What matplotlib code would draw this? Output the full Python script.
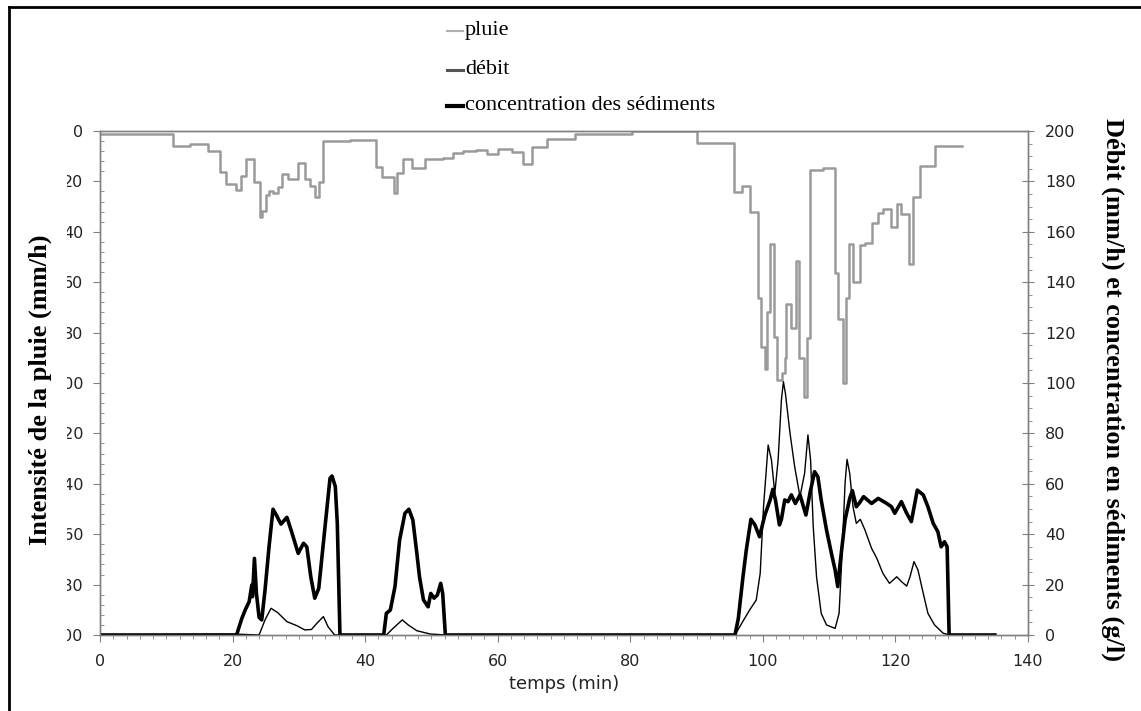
import matplotlib.pyplot as plt
from matplotlib.lines import Line2D
from matplotlib.patches import Rectangle
from matplotlib.ticker import MultipleLocator

# rain intensity (mm/h), step starts in minutes
rain_t = [0, 11.0, 13.6, 16.3, 18.1, 19.0, 20.5, 21.2, 22.0, 23.2,
          24.1, 24.5, 25.0, 25.5, 26.1, 26.8, 27.5, 28.4, 29.9, 30.9,
          31.7, 32.4, 33.1, 33.7, 37.7, 41.6, 42.6, 44.3, 44.8, 45.7,
          47.0, 49.0, 51.8, 53.2, 54.7, 56.7, 58.4, 60.1, 62.1, 63.8,
          65.1, 67.4, 71.6, 80.2, 90.0, 95.7, 96.8, 98.1, 99.3, 99.7,
          100.3, 100.7, 101.1, 101.7, 102.2, 102.9, 103.3, 103.5, 104.3, 105.0,
          105.5, 106.2, 106.6, 107.1, 109.0, 110.9, 111.4, 112.1, 112.5, 113.0,
          113.6, 114.6, 115.4, 116.5, 117.4, 118.1, 119.3, 120.2, 120.9, 122.0,
          122.6, 123.7, 125.9, 130.1]
rain_r = [1, 6.0, 5.2, 7.8, 16.4, 21.2, 23.4, 17.9, 11.2, 20.1,
          34.3, 31.6, 25.4, 23.7, 24.8, 22.1, 17.1, 19.2, 12.6, 19.2,
          21.8, 26.3, 20.1, 3.8, 3.5, 14.2, 18.4, 24.7, 16.5, 11.2,
          14.8, 11.2, 10.8, 8.9, 7.9, 7.5, 9.3, 7.1, 8.5, 13.1,
          6.2, 3.3, 1.2, 0, 4.9, 24.1, 21.8, 32.0, 66.4, 85.8,
          94.6, 71.7, 45.0, 81.6, 99.0, 96.0, 90.0, 68.8, 78.3, 51.5,
          90.2, 105.7, 82.3, 15.5, 14.8, 56.2, 74.7, 100.1, 66.4, 45.0,
          59.8, 45.2, 44.3, 36.6, 32.7, 31.0, 38.2, 29.0, 33.1, 52.8,
          26.1, 13.9, 5.8, 5.8]

# discharge (mm/h)
q_t = [0, 21.0, 24.0, 24.9, 25.8, 26.8, 28.2, 29.7, 30.9, 31.9,
       32.7, 33.7, 34.4, 35.4, 43.2, 44.2, 45.6, 46.5, 47.8, 49.8,
       52.3, 95.8, 96.8, 98.0, 99.0, 99.6, 100.1, 100.8, 101.3, 101.8,
       102.3, 102.8, 103.1, 103.4, 104.1, 104.8, 105.6, 106.3, 106.8, 107.2,
       107.6, 108.1, 108.8, 109.6, 110.9, 111.5, 112.0, 112.4, 112.7, 113.1,
       113.6, 114.1, 114.7, 115.4, 116.4, 117.2, 118.1, 119.1, 120.2, 120.9,
       121.7, 122.2, 122.8, 123.4, 124.2, 124.9, 125.9, 127.2, 128.2, 135]
q_v = [0, 0.3, 0, 6.0, 10.6, 8.9, 5.3, 3.7, 2.0, 2.2,
       4.6, 7.3, 3.3, 0, 0, 2.6, 6.0, 4.0, 1.7, 0.4,
       0, 0, 4.6, 9.9, 13.9, 24.5, 50.9, 75.4, 69.4, 56.2,
       69.4, 93.3, 100.5, 95.9, 80.0, 66.8, 54.9, 64.2, 79.4, 69.4,
       43.0, 23.1, 8.6, 4.0, 2.6, 8.6, 35.0, 60.2, 69.7, 64.2,
       50.9, 44.3, 45.9, 41.7, 34.4, 30.4, 24.5, 20.5, 23.1, 21.2,
       19.4, 23.1, 29.1, 25.8, 16.5, 8.6, 4.0, 0.7, 0, 0]

# sediment concentration (g/l)
c_t = [0, 20.6, 21.4, 21.9, 22.5, 22.9, 23.0, 23.3, 23.6, 24.0,
       24.4, 24.9, 25.5, 26.1, 26.6, 27.3, 28.2, 28.9, 29.9, 30.7,
       31.2, 31.8, 32.4, 33.0, 33.9, 34.7, 35.0, 35.5, 35.8, 36.2,
       42.8, 43.2, 43.8, 44.5, 45.2, 46.0, 46.6, 47.2, 47.8, 48.2,
       48.8, 49.5, 49.9, 50.4, 50.9, 51.4, 51.7, 52.1,
       95.8, 96.3, 97.0, 97.5, 98.2, 98.8, 99.5, 100.3, 101.1, 101.5,
       101.9, 102.5, 102.8, 103.3, 103.8, 104.3, 104.9, 105.6, 106.5, 107.1,
       107.8, 108.3, 108.8, 109.6, 110.4, 110.9, 111.3, 111.6, 112.4, 113.1,
       113.5, 114.1, 114.6, 115.2, 116.4, 117.4, 118.7, 119.4, 119.9, 120.9,
       121.7, 122.4, 123.3, 124.2, 124.9, 125.7, 126.4, 126.9, 127.4, 127.8,
       128.1, 135]
c_v = [0, 0, 6.6, 9.9, 13.2, 19.8, 15.2, 30.4, 16.5, 7.0,
       6.0, 17.9, 35.0, 49.9, 47.6, 44.0, 46.7, 41.0, 32.4, 36.4,
       35.0, 23.1, 14.6, 18.5, 41.7, 62.2, 63.1, 58.9, 44.3, 0,
       0, 8.6, 9.9, 19.2, 37.7, 48.3, 49.9, 45.6, 32.4, 23.1,
       13.9, 11.2, 16.5, 14.6, 15.9, 20.5, 16.5, 0,
       0, 6.6, 23.1, 33.7, 45.9, 43.7, 39.0, 47.6, 53.6, 57.8,
       53.6, 43.7, 45.9, 53.6, 52.9, 55.6, 52.2, 55.6, 47.6, 56.2,
       64.8, 62.8, 53.6, 41.7, 31.7, 25.8, 19.2, 27.1, 45.6, 54.2,
       57.3, 50.9, 52.5, 54.9, 52.2, 54.2, 52.2, 50.9, 48.3, 52.9,
       48.3, 45.0, 57.5, 55.6, 50.9, 44.3, 41.0, 35.0, 37.0, 35.0,
       0, 0]

W, H = 1141, 711
fig = plt.figure(figsize=(W / 100, H / 100), dpi=100)
ax = fig.add_axes([100 / W, 76 / H, 928 / W, 504 / H])
ax2 = ax.twinx()

ax.step(rain_t, rain_r, where='post', color='#9a9a9a', lw=1.8)
ax2.plot(q_t, q_v, color='black', lw=1.0)
ax2.plot(c_t, c_v, color='black', lw=2.6, solid_joinstyle='round')

ax.set_xlim(0, 140)
ax.set_ylim(200, 0)
ax2.set_ylim(0, 200)

spine_col = '#808080'
for a in (ax, ax2):
    for s in a.spines.values():
        s.set_color(spine_col)
        s.set_linewidth(1.0)

ax.xaxis.set_major_locator(MultipleLocator(20))
ax.xaxis.set_minor_locator(MultipleLocator(2))
ax.yaxis.set_major_locator(MultipleLocator(20))
ax.yaxis.set_minor_locator(MultipleLocator(4))
ax2.yaxis.set_major_locator(MultipleLocator(20))
ax2.yaxis.set_minor_locator(MultipleLocator(5))

tick_font = dict(labelsize=11.5, labelcolor='#222222', color=spine_col)
ax.tick_params(axis='x', which='major', direction='out', length=5, pad=9, **tick_font)
ax.tick_params(axis='x', which='minor', direction='out', length=3, color=spine_col)
ax.tick_params(axis='y', which='major', direction='out', length=5, pad=7, **tick_font)
ax.tick_params(axis='y', which='minor', direction='in', length=3, color=spine_col)
ax2.tick_params(axis='y', which='major', direction='inout', length=9, pad=8, **tick_font)
ax2.tick_params(axis='y', which='minor', direction='out', length=3, color=spine_col)

ax.set_xlabel('temps (min)', fontsize=13, color='#222222', labelpad=4)

# left labels are cut off in the source picture
fig.add_artist(Rectangle((12 / W, 60 / H), 55 / W, 540 / H, transform=fig.transFigure,
                         facecolor='white', edgecolor='none', zorder=5))

serif = 'Liberation Serif'
fig.text(40 / W, 1 - 390 / H, 'Intensité de la pluie (mm/h)', rotation=90,
         ha='center', va='center', fontsize=19, fontweight='bold', family=serif, zorder=6)
fig.text(1113 / W, 1 - 390 / H, 'Débit (mm/h) et concentration en sédiments (g/l)',
         rotation=270, ha='center', va='center', fontsize=19, fontweight='bold',
         family=serif, zorder=6)

# legend
legend_items = [('pluie', '#b0b0b0', 1.5, 31),
                ('débit', '#555555', 2.2, 70),
                ('concentration des sédiments', 'black', 3.0, 106)]
for label, col, lw, yp in legend_items:
    fig.add_artist(Line2D([447 / W, 463 / W], [1 - yp / H, 1 - yp / H],
                          transform=fig.transFigure, color=col, lw=lw))
    fig.text(465 / W, 1 - yp / H, label, ha='left', va='center',
             fontsize=16, family=serif)

# frame around the figure
fig.add_artist(Line2D([9 / W, 9 / W], [0, 1 - 7 / H], transform=fig.transFigure,
                      color='black', lw=2.0, zorder=10))
fig.add_artist(Line2D([9 / W, 1], [1 - 7 / H, 1 - 7 / H], transform=fig.transFigure,
                      color='black', lw=2.0, zorder=10))

fig.savefig('out.png', dpi=100)
